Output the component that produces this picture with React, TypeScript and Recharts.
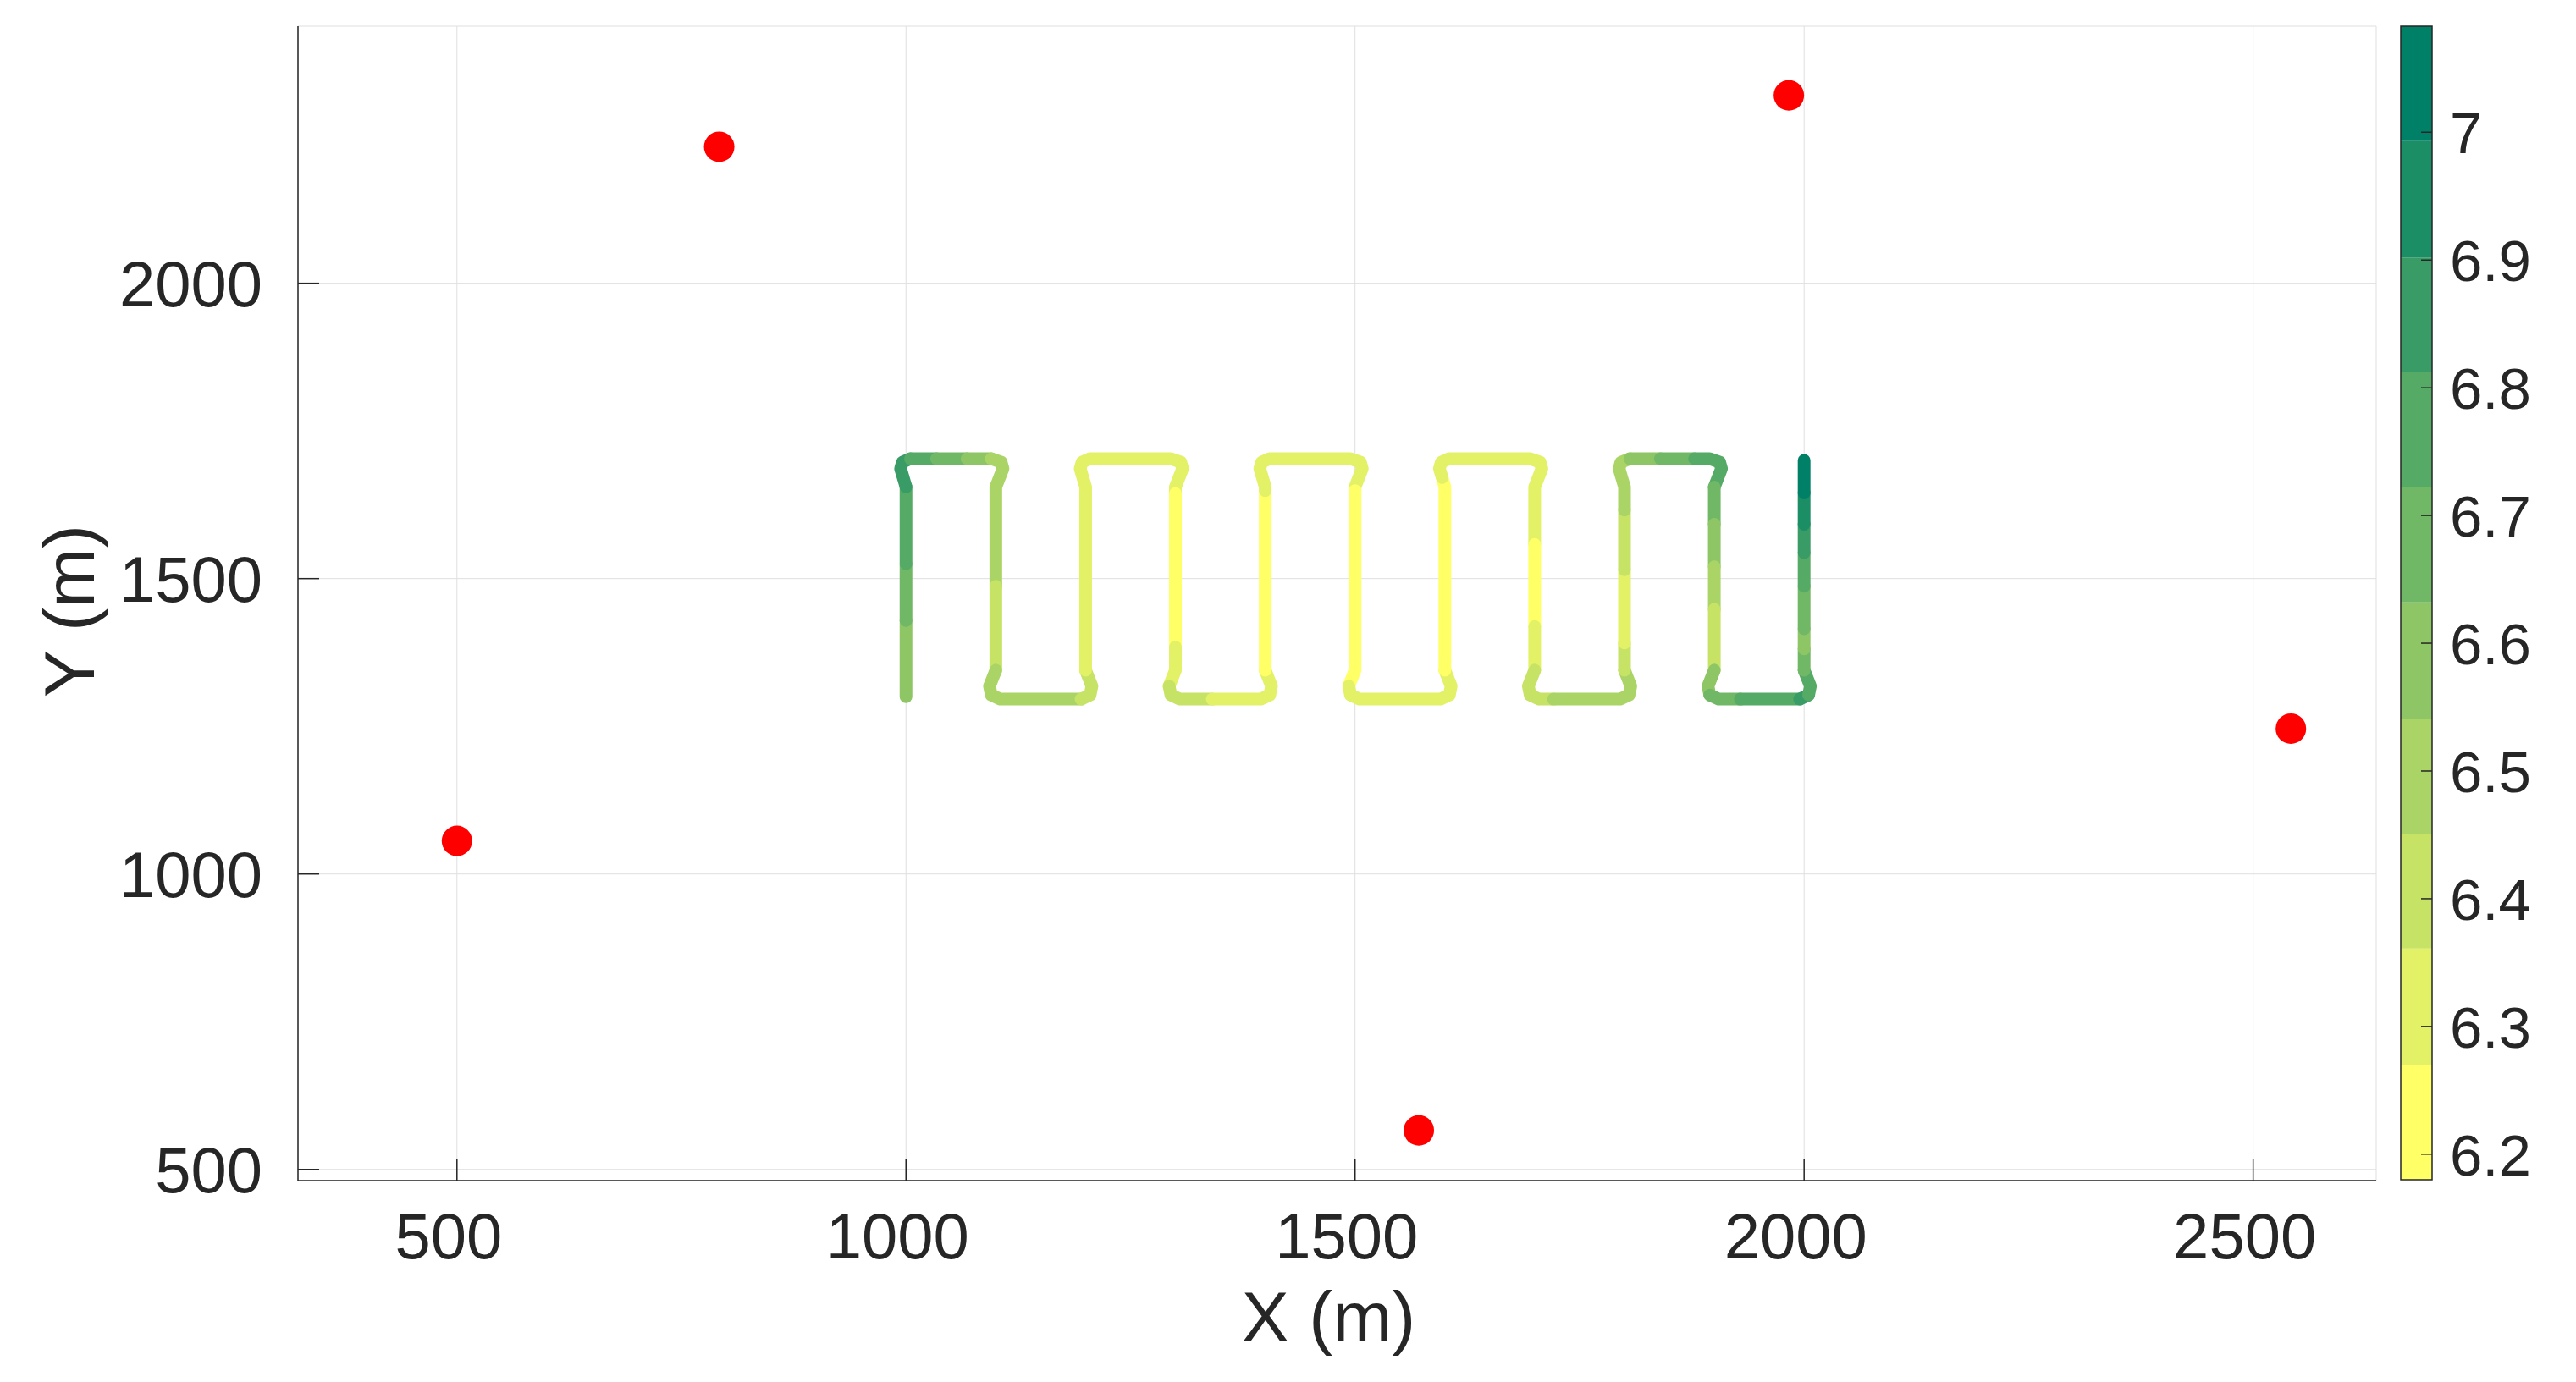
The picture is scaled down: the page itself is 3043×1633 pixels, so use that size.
import { ComposedChart, Line, Scatter, XAxis, YAxis, CartesianGrid, ReferenceArea, Label } from "recharts";

// vehicle track, one value per piece (the piece that starts at that point)
const trackX = [
    1000, 1000, 1000, 1000, 994, 996, 1005, 1034, 1068, 1095, 1106, 1108, 1100, 1100, 1100, 1093, 1095, 1105,
    1195, 1205, 1207, 1200, 1200, 1194, 1196, 1205, 1295, 1306, 1308, 1300, 1300, 1300, 1300, 1293, 1295, 1305,
    1341, 1395, 1405, 1407, 1400, 1400, 1400, 1394, 1396, 1405, 1495, 1506, 1508, 1500, 1500, 1500, 1493, 1495,
    1505, 1595, 1605, 1607, 1600, 1600, 1597, 1594, 1596, 1605, 1695, 1706, 1708, 1700, 1700, 1700, 1700, 1693,
    1695, 1705, 1721, 1795, 1805, 1807, 1800, 1800, 1800, 1800, 1800, 1794, 1796, 1806, 1840, 1878, 1895, 1906,
    1908, 1900, 1900, 1900, 1900, 1900, 1893, 1895, 1905, 1929, 1995, 2005, 2007, 2000, 2000, 2000, 2000, 2000,
    2000, 2000, 2000,
];
const trackY = [
    1300, 1429, 1525, 1655, 1686, 1697, 1703, 1703, 1703, 1703, 1697, 1686, 1655, 1487, 1345, 1318, 1303, 1296,
    1296, 1303, 1318, 1345, 1655, 1686, 1697, 1703, 1703, 1697, 1686, 1655, 1644, 1384, 1345, 1318, 1303, 1296,
    1296, 1296, 1303, 1318, 1345, 1649, 1655, 1686, 1697, 1703, 1703, 1697, 1686, 1655, 1649, 1345, 1318, 1303,
    1296, 1296, 1303, 1318, 1345, 1655, 1671, 1686, 1697, 1703, 1703, 1697, 1686, 1655, 1558, 1419, 1345, 1318,
    1303, 1296, 1296, 1296, 1303, 1318, 1345, 1391, 1515, 1616, 1655, 1686, 1697, 1703, 1703, 1703, 1703, 1697,
    1686, 1655, 1592, 1520, 1448, 1345, 1318, 1303, 1296, 1296, 1296, 1303, 1318, 1345, 1381, 1415, 1487, 1544,
    1592, 1645, 1700,
];
const trackV = [
    6.59, 6.68, 6.77, 6.86, 6.86, 6.86, 6.77, 6.68, 6.59, 6.5, 6.5, 6.5, 6.5, 6.41, 6.5, 6.5, 6.5, 6.5,
    6.41, 6.41, 6.41, 6.32, 6.32, 6.32, 6.32, 6.32, 6.32, 6.32, 6.32, 6.32, 6.23, 6.32, 6.32, 6.41, 6.41, 6.41,
    6.32, 6.32, 6.32, 6.32, 6.23, 6.32, 6.32, 6.32, 6.32, 6.32, 6.32, 6.32, 6.32, 6.32, 6.23, 6.23, 6.32, 6.32,
    6.32, 6.32, 6.32, 6.32, 6.23, 6.23, 6.32, 6.32, 6.32, 6.32, 6.32, 6.32, 6.32, 6.32, 6.23, 6.32, 6.41, 6.41,
    6.41, 6.41, 6.5, 6.5, 6.5, 6.5, 6.41, 6.32, 6.41, 6.5, 6.5, 6.5, 6.5, 6.59, 6.68, 6.77, 6.77, 6.77,
    6.77, 6.68, 6.59, 6.5, 6.41, 6.59, 6.59, 6.68, 6.68, 6.77, 6.86, 6.77, 6.77, 6.68, 6.59, 6.68, 6.77, 6.86,
    6.95, 7.04, 7.04,
];

// anchor positions (red markers)
const anchorX = [500, 792, 1571, 1983, 2542];
const anchorY = [1056, 2231, 566, 2318, 1246];

const xTicks = [500, 1000, 1500, 2000, 2500];
const yTicks = [500, 1000, 1500, 2000];

// colorbar: 10 levels, summer colormap flipped
const cbEdges = [6.18, 6.27, 6.361, 6.451, 6.541, 6.632, 6.722, 6.812, 6.902, 6.993, 7.083];
const cbColors = [
    "#ffff66", "#e3f166", "#c6e366", "#aad566", "#8ec666",
    "#71b866", "#55aa66", "#399c66", "#1c8e66", "#008066",
];
const cbTicks = [6.2, 6.3, 6.4, 6.5, 6.6, 6.7, 6.8, 6.9, 7];

const FONT = "'Liberation Sans', Arial, Helvetica, sans-serif";
const INK = "#262626";

const colorOf = (v: number) => {
    for (let k = 0; k < cbColors.length; k++) {
        if (v < cbEdges[k + 1]) return cbColors[k];
    }
    return cbColors[cbColors.length - 1];
};

// group consecutive pieces of the same colour into one polyline
const pieces: { color: string; pts: { x: number; y: number }[] }[] = [];
for (let i = 0; i < trackX.length - 1; i++) {
    const c = colorOf(trackV[i]);
    const last = pieces[pieces.length - 1];
    const next = { x: trackX[i + 1], y: trackY[i + 1] };
    if (last && last.color === c) last.pts.push(next);
    else pieces.push({ color: c, pts: [{ x: trackX[i], y: trackY[i] }, next] });
}

const anchors = anchorX.map((x, i) => ({ x, y: anchorY[i] }));

const XTick = (props: any) => {
    const { x, y, payload } = props;
    return (
        <g>
            <line x1={x} x2={x} y1={y} y2={y - 25} stroke={INK} strokeWidth={1.5} />
            <text x={x - 10} y={y + 92} textAnchor="middle" fontSize={76} fill={INK} fontFamily={FONT}>
                {payload.value}
            </text>
        </g>
    );
};

const YTick = (props: any) => {
    const { x, y, payload } = props;
    return (
        <g>
            <line x1={x} x2={x + 25} y1={y} y2={y} stroke={INK} strokeWidth={1.5} />
            <text x={x - 42} y={y + 27} textAnchor="end" fontSize={76} fill={INK} fontFamily={FONT}>
                {payload.value}
            </text>
        </g>
    );
};

const CbTick = (props: any) => {
    const { x, y, payload } = props;
    return (
        <g>
            <line x1={x} x2={x - 13} y1={y} y2={y} stroke={INK} strokeWidth={1.5} />
            <text x={x + 21} y={y + 25} textAnchor="start" fontSize={69} fill={INK} fontFamily={FONT}>
                {String(payload.value)}
            </text>
        </g>
    );
};

export default function App() {
    return (
        <div style={{ position: "absolute", left: 0, top: 0, width: 3043, height: 1633, background: "#fff" }}>
            <div style={{ position: "absolute", left: 0, top: 0 }}>
                <ComposedChart width={3043} height={1633} margin={{ top: 31, right: 236, bottom: 0, left: 0 }}>
                    <CartesianGrid stroke="#dfdfdf" strokeWidth={1} />
                    {pieces.map((p, i) => (
                        <Line
                            key={`seg-${i}`}
                            data={p.pts}
                            dataKey="y"
                            type="linear"
                            stroke={p.color}
                            strokeWidth={15}
                            strokeLinecap="round"
                            strokeLinejoin="round"
                            dot={false}
                            activeDot={false}
                            isAnimationActive={false}
                        />
                    ))}
                    <Scatter
                        data={anchors}
                        dataKey="y"
                        isAnimationActive={false}
                        shape={(p: any) => <circle cx={p.cx} cy={p.cy} r={18} fill="#ff0000" />}
                    />
                    <XAxis
                        type="number"
                        dataKey="x"
                        domain={[323, 2637]}
                        ticks={xTicks}
                        interval={0}
                        allowDataOverflow
                        height={238}
                        tickSize={0}
                        tickMargin={0}
                        tickLine={false}
                        axisLine={{ stroke: INK, strokeWidth: 1.5 }}
                        tick={<XTick />}
                    >
                        <Label
                            content={(lp: any) => {
                                const vb = lp.viewBox;
                                return (
                                    <text x={vb.x + vb.width / 2 - 10} y={vb.y + 190} textAnchor="middle" fontSize={84} fill={INK} fontFamily={FONT}>
                                        X (m)
                                    </text>
                                );
                            }}
                        />
                    </XAxis>
                    <YAxis
                        type="number"
                        dataKey="y"
                        domain={[481, 2435]}
                        ticks={yTicks}
                        interval={0}
                        allowDataOverflow
                        width={352}
                        tickSize={0}
                        tickMargin={0}
                        tickLine={false}
                        axisLine={{ stroke: INK, strokeWidth: 1.5 }}
                        tick={<YTick />}
                    >
                        <Label
                            content={() => (
                                <text x={111} y={722} textAnchor="middle" fontSize={84} fill={INK} fontFamily={FONT} transform="rotate(-90 111 722)">
                                    Y (m)
                                </text>
                            )}
                        />
                    </YAxis>
                </ComposedChart>
            </div>
            <div style={{ position: "absolute", left: 2800, top: 0 }}>
                <ComposedChart width={243} height={1633} margin={{ top: 31, right: 0, bottom: 239, left: 36 }}>
                    <XAxis type="number" dataKey="x" domain={[0, 1]} allowDataOverflow hide />
                    {cbColors.map((c, k) => (
                        <ReferenceArea
                            key={`band-${k}`}
                            x1={0}
                            x2={1}
                            y1={cbEdges[k]}
                            y2={cbEdges[k + 1]}
                            fill={c}
                            fillOpacity={1}
                            stroke="none"
                            ifOverflow="visible"
                        />
                    ))}
                    <ReferenceArea
                        x1={0}
                        x2={1}
                        y1={cbEdges[0]}
                        y2={cbEdges[cbEdges.length - 1]}
                        fill="none"
                        stroke={INK}
                        strokeWidth={1.5}
                        ifOverflow="visible"
                    />
                    <YAxis
                        type="number"
                        orientation="right"
                        domain={[cbEdges[0], cbEdges[cbEdges.length - 1]]}
                        ticks={cbTicks}
                        interval={0}
                        allowDataOverflow
                        width={170}
                        tickSize={0}
                        tickMargin={0}
                        tickLine={false}
                        axisLine={false}
                        tick={<CbTick />}
                    />
                </ComposedChart>
            </div>
        </div>
    );
}
